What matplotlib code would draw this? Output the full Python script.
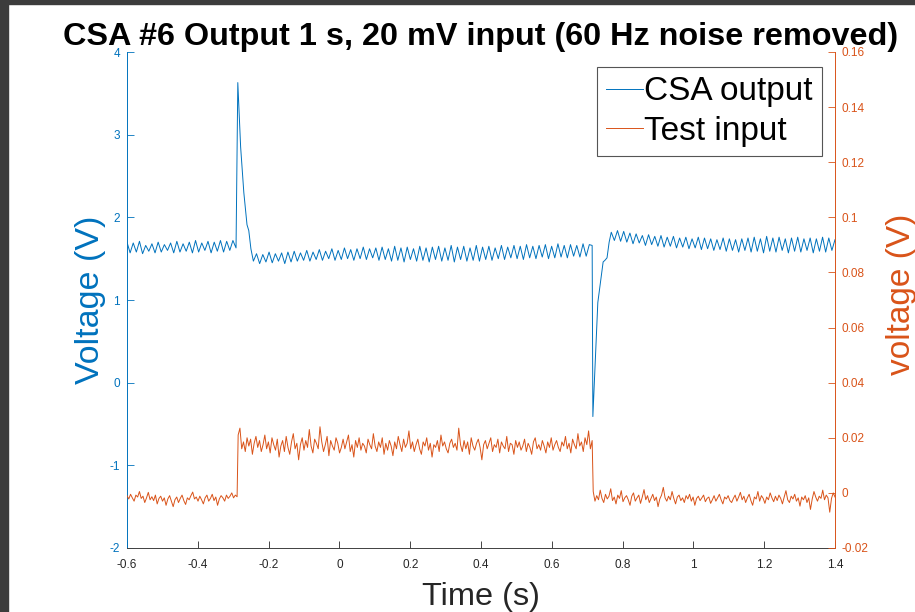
import numpy as np
import matplotlib
matplotlib.use('Agg')
import matplotlib.pyplot as plt
from matplotlib.patches import Rectangle
from matplotlib.ticker import FuncFormatter

plt.rcParams['font.family'] = 'Liberation Sans'
plt.rcParams['axes.unicode_minus'] = False

#### colours (MATLAB defaults)
BLUE = '#0072BD'
ORANGE = '#D95319'

#### CSA output (V)
# oscillating baseline before the input step (peak / trough pairs)
csa_pre = [1.70, 1.57, 1.69, 1.58, 1.71, 1.56, 1.66, 1.59, 1.68, 1.57, 1.70, 1.58,
           1.67, 1.60, 1.69, 1.57, 1.71, 1.58, 1.68, 1.59, 1.70, 1.57, 1.72, 1.58,
           1.69, 1.60, 1.71, 1.57, 1.70, 1.59, 1.72, 1.58, 1.71, 1.60, 1.72, 1.63]
# positive spike at the rising input edge
csa_spike_t = [-0.287, -0.279, -0.270, -0.261, -0.256, -0.250]
csa_spike = [3.63, 2.85, 2.30, 1.91, 1.84, 1.62]
# baseline while input is high
csa_mid = [1.47, 1.56, 1.44, 1.55, 1.46, 1.58, 1.45, 1.56, 1.47, 1.57, 1.44, 1.58, 1.46, 1.59, 1.47, 1.57, 1.48, 1.60, 1.47, 1.58,
           1.49, 1.61, 1.48, 1.59, 1.50, 1.62, 1.48, 1.60, 1.49, 1.63, 1.50, 1.61, 1.48, 1.62, 1.50, 1.64, 1.49, 1.62, 1.51, 1.63,
           1.48, 1.64, 1.49, 1.62, 1.47, 1.65, 1.48, 1.63, 1.46, 1.64, 1.49, 1.62, 1.47, 1.65, 1.48, 1.63, 1.46, 1.64, 1.49, 1.65,
           1.47, 1.63, 1.48, 1.66, 1.46, 1.64, 1.49, 1.65, 1.47, 1.63, 1.48, 1.66, 1.47, 1.64, 1.49, 1.65, 1.48, 1.63, 1.50, 1.66,
           1.49, 1.64, 1.51, 1.66, 1.50, 1.65, 1.49, 1.67, 1.51, 1.65, 1.50, 1.66, 1.52, 1.67, 1.50, 1.65, 1.51, 1.68, 1.52, 1.66,
           1.51, 1.67, 1.53, 1.66, 1.52, 1.68, 1.53, 1.67]
# negative dip at the falling input edge
csa_dip_t = [0.714, 0.716, 0.730, 0.745, 0.750, 0.756, 0.762]
csa_dip = [1.66, -0.41, 0.97, 1.46, 1.48, 1.51, 1.70]
# baseline after input returns low
csa_post = [1.82, 1.72, 1.84, 1.71, 1.83, 1.70, 1.81, 1.68, 1.80, 1.69, 1.78, 1.66, 1.79, 1.67, 1.77, 1.65, 1.78, 1.64, 1.76, 1.65,
            1.77, 1.63, 1.75, 1.64, 1.76, 1.62, 1.74, 1.63, 1.76, 1.61, 1.75, 1.62, 1.74, 1.60, 1.73, 1.61, 1.75, 1.59, 1.74, 1.60,
            1.73, 1.58, 1.74, 1.60, 1.75, 1.58, 1.76, 1.59, 1.74, 1.57, 1.77, 1.59, 1.75, 1.58, 1.76, 1.60, 1.74, 1.57, 1.75, 1.59,
            1.76, 1.58, 1.74, 1.60, 1.75, 1.57, 1.74, 1.59, 1.76, 1.58, 1.75, 1.60, 1.73]

#### Test input, in units of 0.1 mV
inp_low1 = [-10, -22, -5, -18, -30, -8, -15, 5, -20, -12, -35, -18, 2, -25, -14, -28, -8, -40, -20, -12,
            -30, -18, -45, -22, -10, -30, -50, -25, -15, -35, -20, -8, -28, -42, -18, -25, -10, 3, -22, -15,
            -30, -12, -25, -40, -18, -8, -30, -20, -5, -28, -15, -45, -22, -10, -18, -30, -8, -20, -12, 0,
            -18, -8, -14]
inp_high = [210, 235, 160, 185, 150, 200, 170, 195, 140, 180, 205, 165, 190, 150, 175, 210, 160, 185, 145, 200,
            175, 155, 195, 130, 170, 190, 150, 205, 165, 140, 185, 215, 160, 180, 120, 175, 200, 155, 190, 165,
            230, 170, 145, 195, 180, 160, 240, 185, 150, 175, 205, 135, 190, 170, 155, 200, 180, 145, 165, 195,
            160, 185, 210, 150, 175, 130, 190, 165, 200, 155, 180, 170, 145, 195, 175, 160, 215, 170, 150, 185,
            165, 200, 140, 180, 155, 190, 170, 135, 185, 160, 205, 175, 150, 195, 165, 180, 225, 160, 185, 150,
            175, 195, 160, 140, 185, 170, 200, 155, 180, 130, 175, 165, 190, 150, 210, 170, 185, 160, 145, 180,
            195, 165, 180, 155, 235, 175, 150, 190, 160, 185, 140, 200, 170, 155, 180, 195, 165, 120, 175, 190,
            160, 180, 200, 150, 175, 165, 195, 145, 185, 170, 160, 205, 150, 180, 175, 140, 190, 165, 185, 155,
            170, 195, 150, 180, 165, 140, 185, 200, 160, 175, 155, 190, 170, 145, 185, 165, 200, 155, 175, 190,
            165, 150, 185, 170, 205, 160, 180, 145, 195, 175, 160, 215, 170, 185, 150, 200, 175, 225, 160, 190]
inp_low2 = [5, -30, -10, -25, 10, -20, -35, -5, -22, -12, 15, -28, -15, -40, -8, -20, 8, -32, -18, -10,
            -25, -45, -12, 0, -30, -18, -8, -38, -15, 12, -25, -10, -35, -20, -5, -28, -15, -50, -22, -8,
            20, -18, -30, -12, -25, 5, -20, -40, -15, -8, -28, -18, -35, -10, -22, -5, -30, -15, -45, -20,
            -12, -28, -18, -8, -32, -20, -15, -38, -25, -10, -30, -18, -5, -25, -40, -15, -22, -10, -28, -35,
            -20, -8, -30, -15, 2, -25, -12, -35, -18, -5, -28, -45, -15, -22, 5, -30, -10, -20, -38, -15,
            -25, 0, -18, -32, -12, -28, -8, -20, -40, -15, 8, -25, -35, -12, -22, -5, -30, -18, -48, -15,
            -25, -10, -35, -18, -60, -22, 5, -15, -30, -12, -20, 10, -25, -8, -18, -70, -20, 0, -15]

xticks = [-0.6, -0.4, -0.2, 0, 0.2, 0.4, 0.6, 0.8, 1, 1.2, 1.4]
yticks_left = [-2, -1, 0, 1, 2, 3, 4]
yticks_right = [-0.02, 0, 0.02, 0.04, 0.06, 0.08, 0.1, 0.12, 0.14, 0.16]

# assemble the traces
t_csa = np.concatenate([np.linspace(-0.6, -0.292, len(csa_pre)), csa_spike_t,
                        np.linspace(-0.243, 0.706, len(csa_mid)), csa_dip_t,
                        np.linspace(0.768, 1.4, len(csa_post))])
v_csa = np.concatenate([csa_pre, csa_spike, csa_mid, csa_dip, csa_post])
t_inp = np.concatenate([np.linspace(-0.6, -0.289, len(inp_low1)),
                        np.linspace(-0.286, 0.714, len(inp_high)),
                        np.linspace(0.717, 1.4, len(inp_low2))])
v_inp = np.concatenate([inp_low1, inp_high, inp_low2]) * 1e-4

fig = plt.figure(figsize=(9.15, 6.12), dpi=100, facecolor='white')
ax = fig.add_axes([127/915, 1-548/612, 708/915, 496/612])
ax2 = ax.twinx()

l1, = ax.plot(t_csa, v_csa, color=BLUE, lw=0.7)
l2, = ax2.plot(t_inp, v_inp, color=ORANGE, lw=0.7)

fmt = FuncFormatter(lambda v, p: '%g' % round(v, 4))
ax.set_xlim(-0.6, 1.4)
ax.set_ylim(-2, 4)
ax2.set_ylim(-0.02, 0.16)
ax.set_xticks(xticks)
ax.set_yticks(yticks_left)
ax2.set_yticks(yticks_right)
ax.xaxis.set_major_formatter(fmt)
ax2.yaxis.set_major_formatter(fmt)

for a in [ax, ax2]:
    a.spines['top'].set_visible(False)
    a.patch.set_visible(False)
ax.spines['right'].set_visible(False)
ax2.spines['left'].set_visible(False)
ax2.spines['bottom'].set_visible(False)
ax.spines['left'].set_color(BLUE)
ax2.spines['right'].set_color(ORANGE)
ax.spines['bottom'].set_color('#404040')
for s in ['left', 'bottom']:
    ax.spines[s].set_linewidth(0.7)
ax2.spines['right'].set_linewidth(0.7)

ax.tick_params(axis='x', direction='in', length=5, width=0.6, labelsize=8.5, pad=8, colors='#262626')
ax.tick_params(axis='y', direction='in', length=5, width=0.6, labelsize=8.5, pad=5, colors=BLUE)
ax2.tick_params(axis='y', direction='in', length=5, width=0.6, labelsize=8.5, pad=5, colors=ORANGE)

ax.set_xlabel('Time (s)', fontsize=23.4, color='#262626')
ax.xaxis.set_label_coords(0.5, -0.068)
ax.set_ylabel('Voltage (V)', fontsize=24.5, color=BLUE)
ax.yaxis.set_label_coords(-0.0297, 0.5)
ax2.set_ylabel('voltage (V)', fontsize=24, color=ORANGE, rotation=90)
ax2.yaxis.set_label_coords(1.072, 0.512)

fig.text(481/915, 1-45/612, 'CSA #6 Output 1 s, 20 mV input (60 Hz noise removed)',
         ha='center', va='baseline', fontsize=23.3, fontweight='bold')

leg = ax2.legend([l1, l2], ['CSA output', 'Test input'], loc='upper right',
                 bbox_to_anchor=(0.9817, 0.9698), borderaxespad=0, fontsize=24,
                 handlelength=1.1, handletextpad=0.05, borderpad=0.28, labelspacing=0.25,
                 fancybox=False, framealpha=1)
leg.get_frame().set_edgecolor('#555555')
leg.get_frame().set_linewidth(0.8)

# dark screenshot border on the left and top
fig.patches.append(Rectangle((0, 0), 8/915, 1, transform=fig.transFigure, color='#3c3c3c', zorder=10))
fig.patches.append(Rectangle((0, 1-4/612), 1, 4/612, transform=fig.transFigure, color='#3c3c3c', zorder=10))

fig.savefig('out.png', dpi=100, facecolor='white')
